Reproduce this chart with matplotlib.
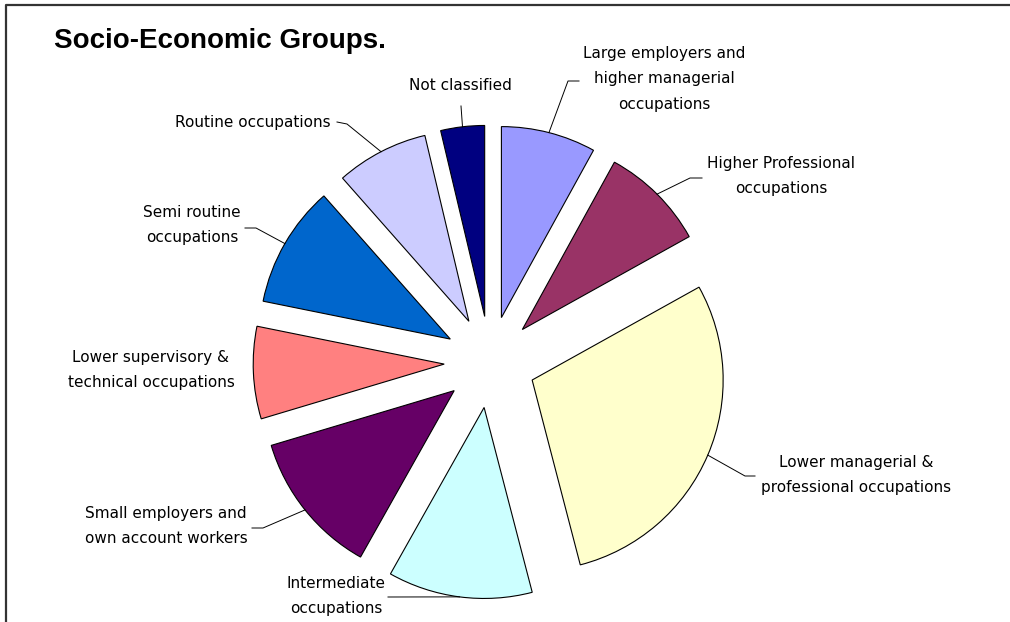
import numpy as np
import matplotlib.pyplot as plt
from matplotlib.lines import Line2D

W, H = 1010, 622

# share of each socio-economic group (%), clockwise from the top
groups = ['Large employers and\nhigher managerial\noccupations',
          'Higher Professional\noccupations',
          'Lower managerial &\nprofessional occupations',
          'Intermediate\noccupations',
          'Small employers and\nown account workers',
          'Lower supervisory &\ntechnical occupations',
          'Semi routine\noccupations',
          'Routine occupations',
          'Not classified']
shares = [8.0, 8.9, 29.0, 12.2, 12.2, 7.8, 10.3, 7.8, 3.7]
colors = ['#9999FF', '#993366', '#FFFFCC', '#CCFFFF', '#660066',
          '#FF8080', '#0066CC', '#CCCCFF', '#000080']

# label placement in pixels (x right, y down): text centre, elbow, line end
label_pos = [(664, 79), (781, 176), (856, 475), (336, 596), (166, 526),
             (151, 370), (192, 225), (253, 122), (460, 86)]
elbows = [(568, 81), (690, 178), (745, 476), None, (263, 528),
          None, (256, 228), (347, 124), None]
ends = [(579, 81), (702, 178), (755, 476), (388, 597), (252, 528),
        None, (245, 228), (337, 122), (461, 106)]


def px(x, y):
    return x, H - y


fig = plt.figure(figsize=(W / 100, H / 100), dpi=100)
ax = fig.add_axes([0, 0, 1, 1])

radius = 191
wedges, _ = ax.pie(shares, colors=colors, startangle=90, counterclock=False,
                   explode=[0.24 * radius] * len(shares), center=px(490, 362),
                   radius=radius,
                   wedgeprops=dict(edgecolor='black', linewidth=0.8))
ax.set_xlim(0, W)
ax.set_ylim(0, H)
ax.set_aspect('equal')
ax.axis('off')

for w, name, pos, elb, end in zip(wedges, groups, label_pos, elbows, ends):
    if end is not None:
        mid = np.deg2rad((w.theta1 + w.theta2) / 2)
        cx, cy = w.center
        pts = [(cx + w.r * np.cos(mid), cy + w.r * np.sin(mid))]
        if elb is not None:
            pts.append(px(*elb))
        pts.append(px(*end))
        xs, ys = zip(*pts)
        ax.plot(xs, ys, color='black', linewidth=0.7)
    ax.text(*px(*pos), name, ha='center', va='center', fontsize=11,
            family='DejaVu Sans', linespacing=1.9)

fig.text(54 / W, 1 - 41 / H, 'Socio-Economic Groups.', ha='left', va='center',
         fontsize=20, fontweight='bold', family='Liberation Sans')

# chart border (top and left edges)
fig.add_artist(Line2D([6 / W, 6 / W, 1], [0, 1 - 5 / H, 1 - 5 / H],
                      color='#333333', linewidth=1.6))

fig.savefig('out.png', dpi=100)
